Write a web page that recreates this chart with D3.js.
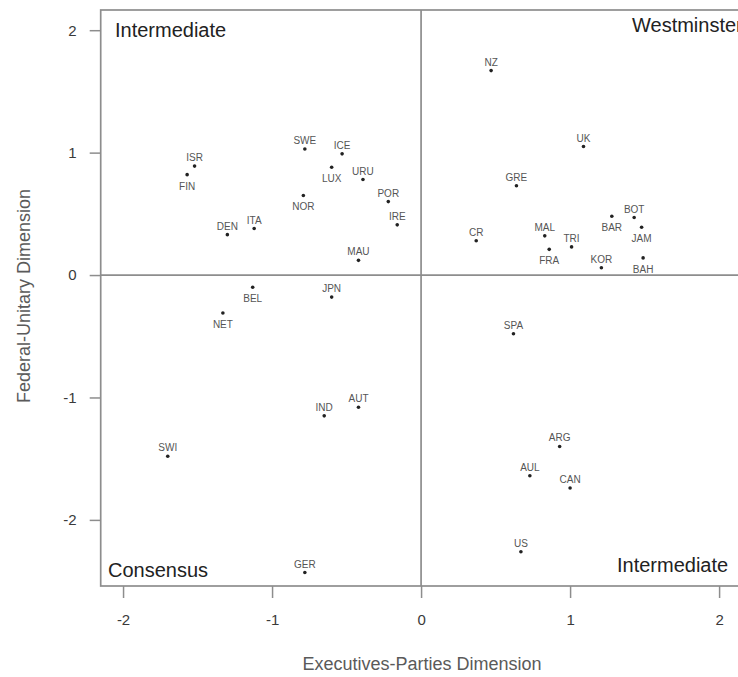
<!DOCTYPE html>
<html>
<head>
<meta charset="utf-8">
<script src="https://cdn.jsdelivr.net/npm/d3@7"></script>
<style>
  body { margin: 0; background: #fff; }
  text { font-family: "Liberation Sans", Arial, Helvetica, sans-serif; }
  .frame, .zero { fill: none; stroke: #8d8d8d; stroke-width: 1.7; }
  .axis path { display: none; }
  .axis line { stroke: #8d8d8d; stroke-width: 1.5; }
  .axis text { font-size: 15px; fill: #3a3a3a; }
  .country { font-size: 10px; fill: #555; text-anchor: middle; }
  .quad { font-size: 20px; fill: #222; }
  .title { font-size: 18px; fill: #5a5a5a; text-anchor: middle; }
</style>
</head>
<body>
<script>
// Lijphart: 36 democracies on two dimensions
var countries = ["ISR", "FIN", "SWE", "ICE", "LUX", "URU", "NOR", "POR", "IRE", "DEN", "ITA", "MAU",
                 "BEL", "JPN", "NET", "IND", "AUT", "SWI", "GER",
                 "NZ", "UK", "GRE", "CR", "MAL", "FRA", "TRI", "BAR", "BOT", "JAM", "KOR", "BAH",
                 "SPA", "ARG", "AUL", "CAN", "US"];
var execParties = [-1.52, -1.57, -0.78, -0.53, -0.60, -0.39, -0.79, -0.22, -0.16, -1.30, -1.12, -0.42,
                   -1.13, -0.60, -1.33, -0.65, -0.42, -1.70, -0.78,
                   0.47, 1.09, 0.64, 0.37, 0.83, 0.86, 1.01, 1.28, 1.43, 1.48, 1.21, 1.49,
                   0.62, 0.93, 0.73, 1.00, 0.67];
var fedUnitary = [0.89, 0.82, 1.03, 0.99, 0.88, 0.78, 0.65, 0.60, 0.41, 0.33, 0.38, 0.12,
                  -0.10, -0.18, -0.31, -1.15, -1.08, -1.48, -2.43,
                  1.67, 1.05, 0.73, 0.28, 0.32, 0.21, 0.23, 0.48, 0.47, 0.39, 0.06, 0.14,
                  -0.48, -1.40, -1.64, -1.74, -2.26];
// label above (t) or below (b) the point
var labelSide = ["t", "b", "t", "t", "b", "t", "b", "t", "t", "t", "t", "t",
                 "b", "t", "b", "t", "t", "t", "t",
                 "t", "t", "t", "t", "t", "b", "t", "b", "t", "b", "t", "b",
                 "t", "t", "t", "t", "t"];

var xTicks = [-2, -1, 0, 1, 2],
    yTicks = [-2, -1, 0, 1, 2];
var xTitle = "Executives-Parties Dimension",
    yTitle = "Federal-Unitary Dimension";

var data = countries.map(function(c, i) {
  return {name: c, x: execParties[i], y: fedUnitary[i], side: labelSide[i]};
});

var width = 738, height = 677;

var svg = d3.select("body").append("svg")
    .attr("width", width)
    .attr("height", height);

var x = d3.scaleLinear().domain([-2.15, 2.2]).range([100.7, 748.9]),
    y = d3.scaleLinear().domain([-2.54, 2.165]).range([586, 10]);

// frame
svg.append("rect")
    .attr("class", "frame")
    .attr("x", x(-2.15))
    .attr("y", y(2.165))
    .attr("width", x(2.2) - x(-2.15))
    .attr("height", y(-2.54) - y(2.165));

// zero lines
svg.append("line")
    .attr("class", "zero")
    .attr("x1", x(-2.15)).attr("x2", x(2.2))
    .attr("y1", y(0)).attr("y2", y(0));
svg.append("line")
    .attr("class", "zero")
    .attr("x1", x(0)).attr("x2", x(0))
    .attr("y1", y(2.165)).attr("y2", y(-2.54));

// axes
svg.append("g")
    .attr("class", "axis")
    .attr("transform", `translate(0, ${y(-2.54)})`)
    .call(d3.axisBottom(x).tickValues(xTicks).tickSize(12).tickPadding(16).tickFormat(d3.format("d")));
svg.append("g")
    .attr("class", "axis")
    .attr("transform", `translate(${x(-2.15)}, 0)`)
    .call(d3.axisLeft(y).tickValues(yTicks).tickSize(11).tickPadding(13).tickFormat(d3.format("d")));

// hyphen instead of unicode minus, like the original
svg.selectAll(".axis text").text(function(d) { return String(d); });

svg.append("text")
    .attr("class", "title")
    .attr("x", x(0) + 1)
    .attr("y", 670)
    .text(xTitle);
svg.append("text")
    .attr("class", "title")
    .attr("transform", `translate(30, ${y(0) + 21}) rotate(-90)`)
    .text(yTitle);

// quadrant names
svg.append("text").attr("class", "quad").attr("x", 115).attr("y", 37).text("Intermediate");
svg.append("text").attr("class", "quad").attr("x", 632).attr("y", 32).text("Westminster");
svg.append("text").attr("class", "quad").attr("x", 108).attr("y", 577).text("Consensus");
svg.append("text").attr("class", "quad").attr("x", 617).attr("y", 572).text("Intermediate");

// points
var pts = svg.append("g")
    .selectAll("g")
    .data(data)
    .enter()
    .append("g");

pts.append("circle")
    .attr("cx", d => x(d.x))
    .attr("cy", d => y(d.y))
    .attr("r", 1.8)
    .attr("fill", "#222");

pts.append("text")
    .attr("class", "country")
    .attr("x", d => x(d.x))
    .attr("y", d => d.side === "t" ? y(d.y) - 5 : y(d.y) + 15)
    .text(d => d.name);
</script>
</body>
</html>
